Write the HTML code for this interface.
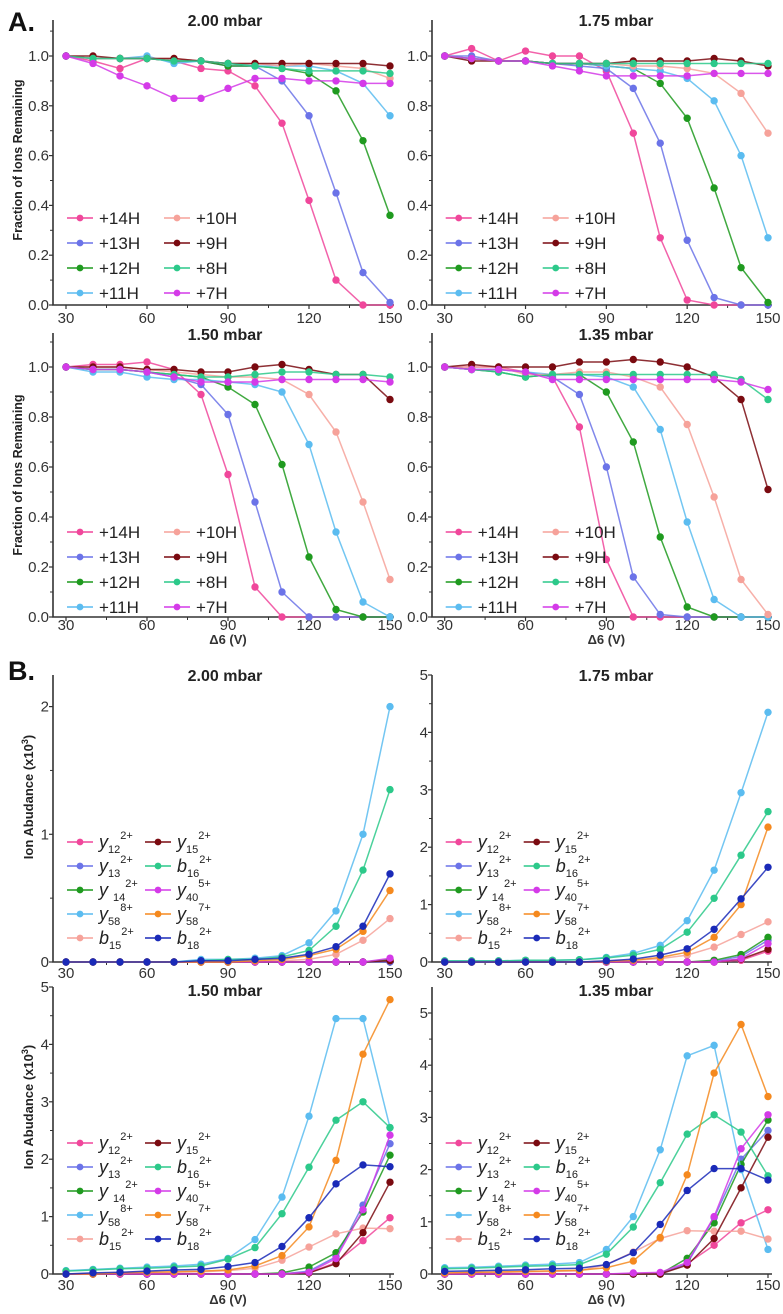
<!DOCTYPE html>
<html><head><meta charset="utf-8"><style>
html,body{margin:0;padding:0;background:#fff;}
svg{display:block;font-family:"Liberation Sans",sans-serif;}
</style></head><body>
<svg id="fig" width="783" height="1314" viewBox="0 0 783 1314" xmlns="http://www.w3.org/2000/svg"></svg>
<script>
const xCats=[30,40,50,60,70,80,90,100,110,120,130,140,150];
const xTicks=[30,60,90,120,150];
const aSeriesNames=["+14H","+13H","+12H","+11H","+10H","+9H","+8H","+7H"];
const aColors=["#f0479b","#6b73e8","#1f9a1f","#5bbcf0","#f6a29a","#7a0a10","#2cc98a","#d43ae8"];
const aTicks=["0.0","0.2","0.4","0.6","0.8","1.0"];
const a200_14=[1,.98,.95,.99,.98,.95,.94,.88,.73,.42,.10,0,0];
const a200_13=[1,.99,.99,.99,.98,.98,.96,.96,.90,.76,.45,.13,.01];
const a200_12=[1,.99,.99,.99,.98,.98,.96,.96,.95,.93,.86,.66,.36];
const a200_11=[1,.99,.99,1.0,.97,.98,.97,.96,.96,.96,.94,.89,.76];
const a200_10=[1,.99,.99,.99,.99,.98,.97,.97,.96,.97,.96,.95,.91];
const a200_9=[1,1,.99,.99,.99,.98,.97,.97,.97,.97,.97,.97,.96];
const a200_8=[1,.99,.99,.99,.98,.98,.97,.96,.95,.94,.94,.94,.93];
const a200_7=[1,.97,.92,.88,.83,.83,.87,.91,.91,.90,.90,.89,.89];
const a175_14=[1,1.03,.98,1.02,1.0,1.0,.94,.69,.27,.02,0,0,0];
const a175_13=[1,1.0,.98,.98,.97,.96,.95,.87,.65,.26,.03,0,0];
const a175_12=[1,.99,.98,.98,.97,.97,.96,.95,.89,.75,.47,.15,.01];
const a175_11=[1,.99,.98,.98,.97,.97,.96,.95,.94,.91,.82,.60,.27];
const a175_10=[1,.99,.98,.98,.97,.97,.97,.96,.96,.95,.93,.85,.69];
const a175_9=[1,.98,.98,.98,.97,.97,.97,.98,.98,.98,.99,.98,.96];
const a175_8=[1,.99,.98,.98,.97,.97,.97,.97,.97,.97,.97,.97,.97];
const a175_7=[1,.99,.98,.98,.96,.94,.92,.92,.92,.92,.93,.93,.93];
const a150_14=[1,1.01,1.01,1.02,.99,.89,.57,.12,0,0,0,0,0];
const a150_13=[1,.99,.99,.98,.96,.93,.81,.46,.10,0,0,0,0];
const a150_12=[1,.99,.99,.98,.97,.96,.92,.85,.61,.24,.03,0,0];
const a150_11=[1,.98,.98,.96,.95,.95,.94,.93,.90,.69,.34,.06,0];
const a150_10=[1,1.0,1.0,.99,.98,.97,.96,.96,.95,.89,.74,.46,.15];
const a150_9=[1,1.0,1.0,.99,.99,.98,.98,1.0,1.01,.99,.97,.97,.87];
const a150_8=[1,.99,.99,.98,.97,.96,.96,.97,.98,.98,.97,.97,.96];
const a150_7=[1,.99,.99,.98,.96,.94,.94,.94,.95,.95,.95,.95,.94];
const a135_14=[1,1,1,.98,.96,.76,.23,0,0,0,0,0,0];
const a135_13=[1,.99,.99,.98,.96,.89,.60,.16,.01,0,0,0,0];
const a135_12=[1,.99,.98,.96,.97,.97,.90,.70,.32,.04,0,0,0];
const a135_11=[1,.99,.99,.98,.97,.97,.96,.92,.75,.38,.07,0,0];
const a135_10=[1,1,1,.97,.97,.98,.98,.96,.92,.77,.48,.15,.01];
const a135_9=[1,1.01,1.0,1.0,1.0,1.02,1.02,1.03,1.02,1.0,.96,.87,.51];
const a135_8=[1,.99,.98,.96,.97,.97,.97,.97,.97,.97,.97,.95,.87];
const a135_7=[1,.99,.99,.98,.95,.95,.95,.95,.95,.95,.95,.94,.91];

const bSeriesNames=["y12","y13","y14","y58-8","b15","y15","b16","y40","y58-7","b18"];
const bColors=["#f0479b","#6b73e8","#1f9a1f","#5bbcf0","#f6a29a","#7a0a10","#2cc98a","#d43ae8","#f5891e","#1a2ab8"];
const bTicksSmall=["0","1","2"];
const bTicksBig=["0","1","2","3","4","5"];
const b200_y12=[0,0,0,0,0,0,0,0,0,0,0,0,.01];
const b200_y13=[0,0,0,0,0,0,0,0,0,0,0,0,0];
const b200_y14=[0,0,0,0,0,0,0,0,0,0,0,0,.02];
const b200_y58a=[0,0,0,0,0,.02,.02,.03,.05,.15,.40,1.0,2.0];
const b200_b15=[0,0,0,0,0,0,0,0,.01,.02,.06,.17,.34];
const b200_y15=[0,0,0,0,0,0,0,0,0,0,0,0,.01];
const b200_b16=[0,0,0,0,0,.01,.02,.02,.04,.09,.28,.72,1.35];
const b200_y40=[0,0,0,0,0,0,0,0,0,0,0,0,.03];
const b200_y58b=[0,0,0,0,0,0,0,.01,.02,.05,.10,.24,.56];
const b200_b18=[0,0,0,0,0,.01,.01,.02,.03,.06,.12,.28,.69];
const b175_y12=[0,0,0,0,0,0,0,0,0,0,0,.03,.19];
const b175_y13=[0,0,0,0,0,0,0,0,0,0,.01,.10,.38];
const b175_y14=[0,0,0,0,0,0,0,0,0,0,.03,.13,.43];
const b175_y58a=[.02,.02,.02,.03,.03,.04,.08,.15,.29,.72,1.6,2.95,4.35];
const b175_b15=[0,0,0,0,0,0,.01,.03,.06,.12,.26,.48,.70];
const b175_y15=[0,0,0,0,0,0,0,0,0,0,0,.05,.22];
const b175_b16=[.02,.02,.02,.03,.03,.04,.07,.12,.22,.52,1.11,1.86,2.62];
const b175_y40=[0,0,0,0,0,0,0,0,0,0,0,.06,.32];
const b175_y58b=[0,0,0,0,0,0,.01,.03,.08,.17,.43,1.0,2.35];
const b175_b18=[0,0,0,0,0,0,.02,.05,.12,.23,.57,1.1,1.65];
const b150_y12=[0,0,0,0,0,0,0,0,0,.02,.20,.58,.98];
const b150_y13=[0,0,0,0,0,0,0,0,0,.05,.30,1.2,2.27];
const b150_y14=[0,0,0,0,0,0,0,0,.02,.12,.37,1.08,2.07];
const b150_y58a=[.06,.08,.10,.12,.14,.17,.27,.60,1.34,2.75,4.45,4.45,2.55];
const b150_b15=[0,0,.01,.02,.03,.04,.06,.10,.24,.47,.70,.80,.79];
const b150_y15=[0,0,0,0,0,0,0,0,0,.02,.18,.72,1.6];
const b150_b16=[.05,.07,.09,.10,.12,.14,.26,.46,1.05,1.86,2.68,3.0,2.55];
const b150_y40=[0,0,0,0,0,0,0,0,0,.03,.27,1.12,2.42];
const b150_y58b=[0,0,.02,.03,.04,.05,.07,.14,.32,.82,1.98,3.83,4.78];
const b150_b18=[0,.02,.03,.05,.07,.08,.13,.20,.48,.98,1.57,1.90,1.87];
const b135_y12=[0,0,0,0,0,0,0,0,0,.20,.55,.98,1.23];
const b135_y13=[0,0,0,0,0,0,0,0,0,.20,1.08,2.2,2.75];
const b135_y14=[0,0,0,0,0,0,0,0,0,.30,.98,2.1,2.95];
const b135_y58a=[.12,.13,.15,.17,.19,.22,.47,1.1,2.38,4.18,4.38,2.0,.47];
const b135_b15=[.02,.03,.03,.04,.05,.06,.18,.42,.68,.83,.82,.82,.67];
const b135_y15=[0,0,0,0,0,0,0,0,0,.17,.68,1.65,2.62];
const b135_b16=[.10,.11,.13,.15,.16,.18,.38,.90,1.75,2.68,3.05,2.72,1.88];
const b135_y40=[0,0,0,0,0,0,0,.02,.03,.22,1.1,2.4,3.05];
const b135_y58b=[.02,.03,.04,.05,.06,.07,.12,.25,.70,1.9,3.85,4.78,3.4];
const b135_b18=[.05,.06,.07,.08,.10,.11,.18,.41,.95,1.6,2.02,2.02,1.8];

const NS="http://www.w3.org/2000/svg";
const svg=document.getElementById('fig');
function mk(tag,attrs,parent){const e=document.createElementNS(NS,tag);for(const k in attrs)e.setAttribute(k,attrs[k]);(parent||svg).appendChild(e);return e;}

function panel(cfg){
  const g=mk('g',{});
  
  
  const sx=v=>cfg.px0+(v-30)*(cfg.px1-cfg.px0)/120;
  const sy=v=>cfg.y0-v*cfg.k;
  const ax=mk('path',{d:`M${cfg.ax},${cfg.top} V${cfg.y0} H${cfg.px1+4}`,fill:'none',stroke:'#333','stroke-width':1.6},g);
  
  
  const step=cfg.tickStep;
  cfg.yTicks.forEach((t,i)=>{
    const v=i*step,y=sy(v);
    mk('line',{x1:cfg.ax-4,x2:cfg.ax,y1:y,y2:y,stroke:'#333','stroke-width':1.2},g);
    const tx=mk('text',{x:cfg.ax-4,y:y+5,'text-anchor':'end','font-size':15,fill:'#333'},g);
    tx.textContent=t;
    
    
  });
  for(let v=step/2;sy(v)>cfg.top;v+=step){const y=sy(v);mk('line',{x1:cfg.ax-3,x2:cfg.ax,y1:y,y2:y,stroke:'#333','stroke-width':1},g);}
  xTicks.forEach(t=>{
    const x=sx(t);
    mk('line',{x1:x,x2:x,y1:cfg.y0,y2:cfg.y0+4,stroke:'#333','stroke-width':1.2},g);
    const tx=mk('text',{x:x,y:cfg.xLabY,'text-anchor':'middle','font-size':15,fill:'#333'},g);
    tx.textContent=String(t);
    
    
  });
  for(let t=45;t<150;t+=30){const x=sx(t);mk('line',{x1:x,x2:x,y1:cfg.y0,y2:cfg.y0+3,stroke:'#333','stroke-width':1},g);}
  const ti=mk('text',{x:cfg.titleX,y:cfg.titleY,'text-anchor':'middle','font-size':16,'font-weight':'bold',fill:'#222'},g);
  ti.textContent=cfg.title;
  
  
  if(cfg.xTitle){
    const xt=mk('text',{x:(cfg.px0+cfg.px1)/2,y:cfg.xLabY+14,'text-anchor':'middle','font-size':13,'font-weight':'bold',fill:'#333'},g);
    xt.textContent='Δ6 (V)';
    
    
  }
  cfg.series.forEach((arr,si)=>{
    const col=cfg.colors[si];
    const sg=mk('g',{},g);
    
    
    const d=arr.map((v,i)=>(i?'L':'M')+sx(xCats[i]).toFixed(1)+','+sy(v).toFixed(1)).join(' ');
    mk('path',{d:d,fill:'none',stroke:col,'stroke-width':1.5,'stroke-opacity':0.85},sg);
    arr.forEach((v,i)=>{
      const c=mk('circle',{cx:sx(xCats[i]),cy:sy(v),r:3.7,fill:col},sg);
      
      
    });
  });
  const lg=mk('g',{},g);
  
  
  const half=Math.ceil(cfg.names.length/2);
  cfg.names.forEach((n,i)=>{
    const col=i<half?0:1,row=i%half;
    const lx=cfg.legX+col*cfg.legColW, ly=cfg.legY+row*cfg.legRowH;
    const eg=mk('g',{},lg);
    
    
    mk('line',{x1:lx,x2:lx+26,y1:ly,y2:ly,stroke:cfg.colors[i],'stroke-width':1.6},eg);
    mk('circle',{cx:lx+13,cy:ly,r:3.4,fill:cfg.colors[i]},eg);
    const t=mk('text',{x:lx+32,y:ly+6,'font-size':cfg.legFont,fill:'#222'},eg);
    if(cfg.labelFn)cfg.labelFn(t,n);else t.textContent=n;
  });
}

function bLabel(t,n){
  const map={"y12":["y","12","2+"],"y13":["y","13","2+"],"y14":["y ","14","2+"],"y58-8":["y","58","8+"],"b15":["b","15","2+"],
    "y15":["y","15","2+"],"b16":["b","16","2+"],"y40":["y","40","5+"],"y58-7":["y","58","7+"],"b18":["b","18","2+"]};
  const p=map[n];
  const a=mk('tspan',{'font-style':'italic','font-size':18},t);a.textContent=p[0];
  const b=mk('tspan',{'font-size':11,dy:5},t);b.textContent=p[1];
  const c=mk('tspan',{'font-size':11,dy:-14},t);c.textContent=p[2];
}

const L={px0:66,px1:390,ax:53,titleX:225};
const R={px0:444.7,px1:768,ax:432,titleX:616};
const aTop=[[a200_14,a200_13,a200_12,a200_11,a200_10,a200_9,a200_8,a200_7],[a175_14,a175_13,a175_12,a175_11,a175_10,a175_9,a175_8,a175_7],
  [a150_14,a150_13,a150_12,a150_11,a150_10,a150_9,a150_8,a150_7],[a135_14,a135_13,a135_12,a135_11,a135_10,a135_9,a135_8,a135_7]];
const aTitles=["2.00 mbar","1.75 mbar","1.50 mbar","1.35 mbar"];
const aNames=["panel-a-2-00-mbar","panel-a-1-75-mbar","panel-a-1-50-mbar","panel-a-1-35-mbar"];
for(let p=0;p<4;p++){
  const s=p%2?R:L,row=p>>1;
  const y0=row?617:305,k=row?250:249;
  panel(Object.assign({},s,{name:aNames[p],y0:y0,k:k,top:row?333:20,tickStep:0.2,yTicks:aTicks,xLabY:row?630:323,
    titleY:row?340:26,title:aTitles[p],xTitle:row===1,series:aTop[p],colors:aColors,names:aSeriesNames,
    legX:s.px0+1,legY:row?532:218,legColW:97,legRowH:25,legFont:17}));
}
const bAll=[[b200_y12,b200_y13,b200_y14,b200_y58a,b200_b15,b200_y15,b200_b16,b200_y40,b200_y58b,b200_b18],
  [b175_y12,b175_y13,b175_y14,b175_y58a,b175_b15,b175_y15,b175_b16,b175_y40,b175_y58b,b175_b18],
  [b150_y12,b150_y13,b150_y14,b150_y58a,b150_b15,b150_y15,b150_b16,b150_y40,b150_y58b,b150_b18],
  [b135_y12,b135_y13,b135_y14,b135_y58a,b135_b15,b135_y15,b135_b16,b135_y40,b135_y58b,b135_b18]];
const bNames=["panel-b-2-00-mbar","panel-b-1-75-mbar","panel-b-1-50-mbar","panel-b-1-35-mbar"];
const bK=[127.7,57.4,57.4,52.2];
for(let p=0;p<4;p++){
  const s=p%2?R:L,row=p>>1;
  panel(Object.assign({},s,{name:bNames[p],y0:row?1274:962,k:bK[p],top:row?987:675,tickStep:1,yTicks:p===0?bTicksSmall:bTicksBig,
    xLabY:row?1290:978,titleY:row?996:681,title:aTitles[p],xTitle:row===1,series:bAll[p],colors:bColors,names:bSeriesNames,
    legX:s.px0+1,legY:row?1143:842,legColW:78,legRowH:24,legFont:14,labelFn:bLabel}));
}
function txt(attrs,s,name){const t=mk('text',attrs);t.textContent=s;return t;}
txt({x:8,y:31,'font-size':27,'font-weight':'bold',fill:'#111'},'A.','panel-label-a');
txt({x:8,y:680,'font-size':27,'font-weight':'bold',fill:'#111'},'B.','panel-label-b');
txt({x:0,y:0,'font-size':12.5,'font-weight':'bold',fill:'#222','text-anchor':'middle',transform:'translate(22,160) rotate(-90)'},'Fraction of Ions Remaining','y-axis-title-a-top');
txt({x:0,y:0,'font-size':12.5,'font-weight':'bold',fill:'#222','text-anchor':'middle',transform:'translate(22,475) rotate(-90)'},'Fraction of Ions Remaining','y-axis-title-a-bottom');
const yb1=txt({x:0,y:0,'font-size':13,'font-weight':'bold',fill:'#222','text-anchor':'middle',transform:'translate(33,797) rotate(-90)'},'Ion Abudance (x10','y-axis-title-b-top');
let sp=mk('tspan',{'font-size':9,dy:-5},yb1);sp.textContent='3';sp=mk('tspan',{dy:5},yb1);sp.textContent=')';
const yb2=txt({x:0,y:0,'font-size':13,'font-weight':'bold',fill:'#222','text-anchor':'middle',transform:'translate(33,1107) rotate(-90)'},'Ion Abudance (x10','y-axis-title-b-bottom');
sp=mk('tspan',{'font-size':9,dy:-5},yb2);sp.textContent='3';sp=mk('tspan',{dy:5},yb2);sp.textContent=')';
</script>
</body></html>
